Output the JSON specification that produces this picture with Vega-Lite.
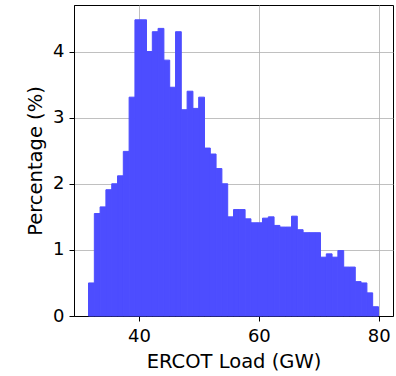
{
  "$schema": "https://vega.github.io/schema/vega-lite/v6.json",
  "width": 319,
  "height": 311,
  "autosize": {"type": "none"},
  "padding": {"left": 74, "top": 5, "right": 3, "bottom": 60},
  "config": {
    "font": "DejaVu Sans",
    "view": {"stroke": "black", "strokeWidth": 1},
    "axis": {
      "zindex": 1,
      "grid": true,
      "gridColor": "#b0b0b0",
      "gridWidth": 0.8,
      "domainColor": "black",
      "domainWidth": 1,
      "tickColor": "black",
      "tickSize": 5,
      "tickWidth": 1,
      "labelFontSize": 18,
      "labelColor": "black",
      "labelPadding": 5,
      "titleFontSize": 19.5,
      "titleFontWeight": "normal",
      "titleColor": "black"
    }
  },
  "data": {
    "values": [
      {"bin_start": 31.60, "bin_end": 32.57, "pct": 0.50},
      {"bin_start": 32.57, "bin_end": 33.53, "pct": 1.55},
      {"bin_start": 33.53, "bin_end": 34.50, "pct": 1.65},
      {"bin_start": 34.50, "bin_end": 35.47, "pct": 1.91},
      {"bin_start": 35.47, "bin_end": 36.44, "pct": 2.00},
      {"bin_start": 36.44, "bin_end": 37.40, "pct": 2.12},
      {"bin_start": 37.40, "bin_end": 38.37, "pct": 2.49},
      {"bin_start": 38.37, "bin_end": 39.34, "pct": 3.31},
      {"bin_start": 39.34, "bin_end": 40.30, "pct": 4.48},
      {"bin_start": 40.30, "bin_end": 41.27, "pct": 4.48},
      {"bin_start": 41.27, "bin_end": 42.24, "pct": 4.00},
      {"bin_start": 42.24, "bin_end": 43.20, "pct": 4.30},
      {"bin_start": 43.20, "bin_end": 44.17, "pct": 4.35},
      {"bin_start": 44.17, "bin_end": 45.14, "pct": 3.87},
      {"bin_start": 45.14, "bin_end": 46.11, "pct": 3.46},
      {"bin_start": 46.11, "bin_end": 47.07, "pct": 4.30},
      {"bin_start": 47.07, "bin_end": 48.04, "pct": 3.12},
      {"bin_start": 48.04, "bin_end": 49.01, "pct": 3.40},
      {"bin_start": 49.01, "bin_end": 49.97, "pct": 3.14},
      {"bin_start": 49.97, "bin_end": 50.94, "pct": 3.31},
      {"bin_start": 50.94, "bin_end": 51.91, "pct": 2.54},
      {"bin_start": 51.91, "bin_end": 52.87, "pct": 2.45},
      {"bin_start": 52.87, "bin_end": 53.84, "pct": 2.23},
      {"bin_start": 53.84, "bin_end": 54.81, "pct": 2.00},
      {"bin_start": 54.81, "bin_end": 55.78, "pct": 1.50},
      {"bin_start": 55.78, "bin_end": 56.74, "pct": 1.61},
      {"bin_start": 56.74, "bin_end": 57.71, "pct": 1.61},
      {"bin_start": 57.71, "bin_end": 58.68, "pct": 1.47},
      {"bin_start": 58.68, "bin_end": 59.64, "pct": 1.41},
      {"bin_start": 59.64, "bin_end": 60.61, "pct": 1.41},
      {"bin_start": 60.61, "bin_end": 61.58, "pct": 1.48},
      {"bin_start": 61.58, "bin_end": 62.54, "pct": 1.50},
      {"bin_start": 62.54, "bin_end": 63.51, "pct": 1.37},
      {"bin_start": 63.51, "bin_end": 64.48, "pct": 1.345},
      {"bin_start": 64.48, "bin_end": 65.45, "pct": 1.345},
      {"bin_start": 65.45, "bin_end": 66.41, "pct": 1.51},
      {"bin_start": 66.41, "bin_end": 67.38, "pct": 1.305},
      {"bin_start": 67.38, "bin_end": 68.35, "pct": 1.26},
      {"bin_start": 68.35, "bin_end": 69.31, "pct": 1.26},
      {"bin_start": 69.31, "bin_end": 70.28, "pct": 1.26},
      {"bin_start": 70.28, "bin_end": 71.25, "pct": 0.89},
      {"bin_start": 71.25, "bin_end": 72.21, "pct": 0.94},
      {"bin_start": 72.21, "bin_end": 73.18, "pct": 0.89},
      {"bin_start": 73.18, "bin_end": 74.15, "pct": 0.99},
      {"bin_start": 74.15, "bin_end": 75.12, "pct": 0.74},
      {"bin_start": 75.12, "bin_end": 76.08, "pct": 0.74},
      {"bin_start": 76.08, "bin_end": 77.05, "pct": 0.52},
      {"bin_start": 77.05, "bin_end": 78.02, "pct": 0.50},
      {"bin_start": 78.02, "bin_end": 78.98, "pct": 0.35},
      {"bin_start": 78.98, "bin_end": 79.95, "pct": 0.14}
    ]
  },
  "mark": {"type": "bar", "color": "#4d4dff", "stroke": "#4d4dff", "strokeWidth": 1, "opacity": 1},
  "encoding": {
    "x": {
      "field": "bin_start",
      "type": "quantitative",
      "scale": {"domain": [29.18, 82.37], "nice": false, "zero": false},
      "axis": {"values": [40, 60, 80], "title": "ERCOT Load (GW)", "labelPadding": 6, "titlePadding": 7}
    },
    "x2": {"field": "bin_end"},
    "y": {
      "field": "pct",
      "type": "quantitative",
      "scale": {"domain": [0, 4.704], "nice": false},
      "axis": {"values": [0, 1, 2, 3, 4], "title": "Percentage (%)", "titlePadding": 7}
    },
    "y2": {"datum": 0}
  }
}
